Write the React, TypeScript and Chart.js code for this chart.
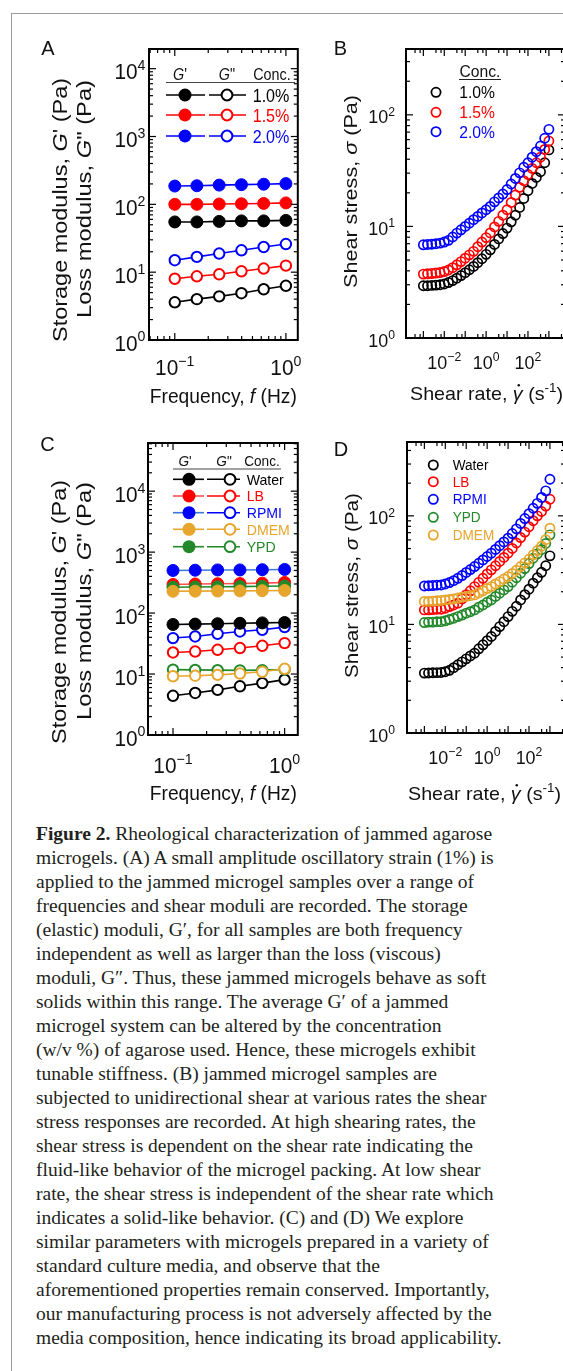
import React, { useEffect, useRef } from "react";
import { Chart, registerables } from "chart.js";
Chart.register(...registerables);

// ---------------- DATA ----------------
const freq = [0.1, 0.158, 0.251, 0.398, 0.631, 1.0];
// Panel A (concentration)
const gp10 = [55, 55, 56, 57, 57, 58];
const gpp10 = [3.6, 4.0, 4.4, 4.9, 5.6, 6.3];
const gp15 = [100, 100, 101, 102, 103, 105];
const gpp15 = [8.0, 8.7, 9.3, 10.3, 11.3, 12.5];
const gp20 = [186, 188, 192, 195, 198, 202];
const gpp20 = [15, 16.8, 18.8, 21, 23.5, 26];
// Panel C (media)
const gpWater = [65, 66, 67, 68, 69, 70];
const gppWater = [4.4, 4.9, 5.5, 6.3, 7.1, 8.1];
const gpLB = [295, 300, 303, 305, 310, 318];
const gppLB = [22.6, 23.4, 25.0, 26.7, 29.1, 32.2];
const gpRPMI = [500, 505, 510, 510, 515, 520];
const gppRPMI = [38.9, 41.4, 45.7, 49.9, 53.2, 58.9];
const gpDMEM = [228, 229, 230, 231, 233, 235];
const gppDMEM = [9.2, 9.4, 9.7, 10.2, 10.9, 12.2];
const gpYPD = [265, 268, 270, 272, 275, 278];
const gppYPD = [11.8, 11.7, 11.6, 11.5, 11.6, 11.9];

const shearRate = [0.001, 0.00158, 0.00251, 0.00398, 0.00631, 0.01, 0.0158, 0.0251, 0.0398, 0.0631, 0.1, 0.158, 0.251, 0.398, 0.631, 1, 1.58, 2.51, 3.98, 6.31, 10, 15.8, 25.1, 39.8, 63.1, 100, 158, 251, 398, 631, 1000];
// Panel B
const sB10 = [2.94, 2.94, 2.96, 2.98, 3.0, 3.05, 3.14, 3.27, 3.44, 3.63, 3.85, 4.09, 4.38, 4.73, 5.13, 5.62, 6.17, 6.89, 7.73, 8.63, 9.66, 11.0, 12.6, 14.8, 17.8, 20.9, 24.3, 27.5, 30.9, 37.2, 48.5];
const sB15 = [3.74, 3.76, 3.78, 3.82, 3.86, 3.94, 4.07, 4.27, 4.53, 4.84, 5.19, 5.56, 5.98, 6.58, 7.24, 7.94, 8.75, 9.89, 11.1, 12.6, 14.1, 16.4, 19.1, 22.4, 25.7, 29.2, 33.1, 37.2, 41.7, 49.0, 58.3];
const sB20 = [6.84, 6.89, 6.93, 7.0, 7.08, 7.24, 7.5, 8.04, 8.71, 9.33, 10.0, 10.7, 11.5, 12.3, 13.2, 14.1, 15.1, 16.6, 18.0, 19.5, 21.4, 24.0, 26.9, 30.2, 33.9, 37.2, 41.7, 46.8, 52.5, 61.7, 74.1];
// Panel D
const sDWater = [3.56, 3.57, 3.59, 3.6, 3.61, 3.67, 3.78, 4.0, 4.25, 4.52, 4.82, 5.13, 5.44, 5.96, 6.49, 7.08, 7.74, 8.61, 9.55, 10.6, 11.8, 13.2, 14.7, 16.8, 18.8, 21.1, 24.0, 26.9, 30.2, 34.7, 42.8];
const sDLB = [13.6, 13.6, 13.7, 13.8, 13.8, 14.1, 14.6, 15.1, 15.7, 17.2, 18.8, 20.4, 22.3, 24.4, 26.6, 29.2, 31.8, 34.7, 38.0, 41.4, 45.3, 50.1, 56.2, 63.1, 70.8, 79.4, 90.2, 100, 109.6, 123, 142.2];
const sDRPMI = [22.6, 22.7, 22.8, 23.0, 23.1, 23.6, 24.3, 25.3, 26.6, 28.2, 30.1, 32.0, 34.1, 36.6, 39.3, 42.2, 45.3, 49.0, 53.1, 57.5, 62.2, 68.7, 75.9, 85.1, 94.4, 104.7, 117.5, 130.3, 147.9, 169.8, 217.3];
const sDYPD = [10.4, 10.5, 10.5, 10.6, 10.6, 10.8, 11.1, 11.4, 11.8, 12.2, 12.7, 13.1, 13.6, 14.4, 15.1, 16.0, 16.8, 18.1, 19.4, 20.8, 22.3, 24.5, 26.9, 29.6, 32.7, 36.3, 40.7, 44.7, 49.0, 55.6, 66.8];
const sDDMEM = [16.3, 16.3, 16.4, 16.5, 16.6, 16.8, 17.0, 17.2, 17.5, 17.8, 18.1, 18.4, 18.7, 19.5, 20.4, 21.4, 22.3, 23.6, 24.8, 26.2, 27.6, 29.5, 31.6, 34.1, 36.9, 39.8, 43.7, 47.9, 52.5, 60.3, 76.9];

const concLabels = ["1.0%", "1.5%", "2.0%"];
const mediaLabelsC = ["Water", "LB", "RPMI", "DMEM", "YPD"];
const mediaLabelsD = ["Water", "LB", "RPMI", "YPD", "DMEM"];
const freqTickExps = [-1, 0];
const modTickExps = [0, 1, 2, 3, 4];
const rateTickExps = [-2, 0, 2];
const stressTickExps = [0, 1, 2];

const captionLines = [
  "microgels. (A) A small amplitude oscillatory strain (1%) is",
  "applied to the jammed microgel samples over a range of",
  "frequencies and shear moduli are recorded. The storage",
  "(elastic) moduli, G\u2032, for all samples are both frequency",
  "independent as well as larger than the loss (viscous)",
  "moduli, G\u2033. Thus, these jammed microgels behave as soft",
  "solids within this range. The average G\u2032 of a jammed",
  "microgel system can be altered by the concentration",
  "(w/v %) of agarose used. Hence, these microgels exhibit",
  "tunable stiffness. (B) jammed microgel samples are",
  "subjected to unidirectional shear at various rates the shear",
  "stress responses are recorded. At high shearing rates, the",
  "shear stress is dependent on the shear rate indicating the",
  "fluid-like behavior of the microgel packing. At low shear",
  "rate, the shear stress is independent of the shear rate which",
  "indicates a solid-like behavior. (C) and (D) We explore",
  "similar parameters with microgels prepared in a variety of",
  "standard culture media, and observe that the",
  "aforementioned properties remain conserved. Importantly,",
  "our manufacturing process is not adversely affected by the",
  "media composition, hence indicating its broad applicability.",
];

// ---------------- STYLE ----------------
const BLACK = "#000000";
const RED = "#ff0000";
const BLUE = "#0000ff";
const GOLD = "#e6a52c";
const GREEN = "#22882a";
const FONT = '"Liberation Sans", Arial, Helvetica, sans-serif';

type Seg = { t: string; it?: boolean; sup?: boolean; dot?: boolean };
type TextItem = {
  segs: Seg[];
  x: number;
  y: number;
  size: number;
  align?: "left" | "center" | "right";
  color?: string;
  rot?: boolean;
  len?: number;
  sx?: number;
};

function fontOf(s: Seg, size: number) {
  return `${s.it ? "italic " : ""}${s.sup ? size * 0.68 : size}px ${FONT}`;
}
function segWidth(ctx: CanvasRenderingContext2D, segs: Seg[], size: number) {
  let w = 0;
  for (const s of segs) {
    ctx.font = fontOf(s, size);
    w += ctx.measureText(s.t).width;
  }
  return w;
}
function drawText(ctx: CanvasRenderingContext2D, it: TextItem) {
  const size = it.size;
  ctx.save();
  ctx.translate(it.x, it.y);
  if (it.rot) ctx.rotate(-Math.PI / 2);
  const w = segWidth(ctx, it.segs, size);
  const sx = it.len ? it.len / w : it.sx ?? 1;
  ctx.scale(sx, 1);
  const align = it.align ?? "left";
  let px = align === "left" ? 0 : align === "center" ? -w / 2 : -w;
  ctx.fillStyle = it.color ?? "#111";
  ctx.textBaseline = "alphabetic";
  ctx.textAlign = "left";
  for (const s of it.segs) {
    ctx.font = fontOf(s, size);
    const sw = ctx.measureText(s.t).width;
    ctx.fillText(s.t, px, s.sup ? -size * 0.42 : 0);
    if (s.dot) {
      ctx.beginPath();
      ctx.arc(px + sw * 0.6, -size * 0.78, size * 0.065, 0, Math.PI * 2);
      ctx.fill();
    }
    px += sw;
  }
  ctx.restore();
}

function expLabel(e: number): Seg[] {
  return [{ t: "10" }, { t: e < 0 ? "\u2212" + Math.abs(e) : String(e), sup: true }];
}

function logTicks(min: number, max: number, minors: number[]) {
  const out: { v: number; major: boolean }[] = [];
  for (let e = Math.floor(Math.log10(min)) - 1; e <= Math.ceil(Math.log10(max)); e++) {
    for (const m of [1, ...minors]) {
      const v = m * Math.pow(10, e);
      if (v >= min * 0.999 && v <= max * 1.001) out.push({ v, major: m === 1 });
    }
  }
  return out;
}

type LegendRow = { label: string; color: string; line?: string };
type PanelDef = {
  ox: number; oy: number; w: number; h: number;
  box: { l: number; t: number; r: number; b: number };
  xMin: number; xMax: number; yMin: number; yMax: number;
  xMinor: number[]; yMinor: number[];
  xExps: number[]; yExps: number[];
  tickSize: number; tickSx: number;
  xLabBase: number; yLabRight: number; yLabDy: number;
  texts: TextItem[];
  legend: (ctx: CanvasRenderingContext2D) => void;
  datasets: any[];
};

function marker(ctx: CanvasRenderingContext2D, x: number, y: number, r: number, color: string, filled: boolean, lw: number) {
  ctx.beginPath();
  ctx.arc(x, y, r, 0, Math.PI * 2);
  if (filled) {
    ctx.fillStyle = color;
    ctx.fill();
  } else {
    ctx.fillStyle = "#fff";
    ctx.fill();
    ctx.lineWidth = lw;
    ctx.strokeStyle = color;
    ctx.stroke();
  }
}
function seg(ctx: CanvasRenderingContext2D, x1: number, y1: number, x2: number, y2: number, color: string, lw: number) {
  ctx.beginPath();
  ctx.moveTo(x1, y1);
  ctx.lineTo(x2, y2);
  ctx.strokeStyle = color;
  ctx.lineWidth = lw;
  ctx.stroke();
}

function decoPlugin(p: PanelDef) {
  return {
    id: "deco",
    afterDraw(chart: any) {
      const ctx: CanvasRenderingContext2D = chart.ctx;
      const { left, right, top, bottom } = chart.chartArea;
      const xs = chart.scales.x;
      const ys = chart.scales.y;
      ctx.save();
      ctx.lineCap = "butt";
      for (const t of logTicks(p.xMin, p.xMax, p.xMinor)) {
        const px = xs.getPixelForValue(t.v);
        const L = t.major ? 7 : 4;
        seg(ctx, px, bottom, px, bottom - L, "#000", 1.2);
        seg(ctx, px, top, px, top + L, "#000", 1.2);
      }
      for (const t of logTicks(p.yMin, p.yMax, p.yMinor)) {
        const py = ys.getPixelForValue(t.v);
        const L = t.major ? 7 : 4;
        seg(ctx, left, py, left + L, py, "#000", 1.2);
        seg(ctx, right, py, right - L, py, "#000", 1.2);
      }
      ctx.lineWidth = 2;
      ctx.strokeStyle = "#000";
      ctx.strokeRect(left, top, right - left, bottom - top);

      ctx.translate(-p.ox, -p.oy);
      for (const e of p.xExps) {
        const px = xs.getPixelForValue(Math.pow(10, e)) + p.ox;
        drawText(ctx, { segs: expLabel(e), x: px, y: p.xLabBase, size: p.tickSize, align: "center", sx: p.tickSx, color: "#111" });
      }
      for (const e of p.yExps) {
        const py = ys.getPixelForValue(Math.pow(10, e)) + p.oy;
        drawText(ctx, { segs: expLabel(e), x: p.yLabRight, y: py + p.yLabDy, size: p.tickSize, align: "right", sx: p.tickSx, color: "#111" });
      }
      for (const t of p.texts) drawText(ctx, t);
      p.legend(ctx);
      ctx.restore();
    },
  };
}

function lineSet(x: number[], y: number[], color: string, filled: boolean, order: number, lineColor?: string) {
  return {
    data: x.map((v, i) => ({ x: v, y: y[i] })),
    showLine: true,
    borderColor: lineColor ?? color,
    borderWidth: 1.6,
    pointRadius: filled ? 6 : 5.2,
    pointBorderWidth: filled ? 1 : 2,
    pointBackgroundColor: filled ? color : "#ffffff",
    pointBorderColor: color,
    pointStyle: "circle",
    order,
  };
}
function openSet(x: number[], y: number[], color: string, order: number) {
  return {
    data: x.map((v, i) => ({ x: v, y: y[i] })),
    showLine: false,
    pointRadius: 4.6,
    pointBorderWidth: 1.7,
    pointBackgroundColor: "rgba(0,0,0,0)",
    pointBorderColor: color,
    pointStyle: "circle",
    order,
  };
}

const P = (e: number) => Math.pow(10, e);

const modTitle = (baseX1: number, baseX2: number, c1: number, c2: number): TextItem[] => [
  { segs: [{ t: "Storage modulus, " }, { t: "G", it: true }, { t: "' (Pa)" }], x: baseX1, y: c1, size: 19.5, align: "center", rot: true, len: 264, color: "#111" },
  { segs: [{ t: "Loss modulus, " }, { t: "G", it: true }, { t: '" (Pa)' }], x: baseX2, y: c2, size: 19.5, align: "center", rot: true, len: 238, color: "#111" },
];

function modLegend(
  ctx: CanvasRenderingContext2D,
  o: { hdrY: number; hdrX: number[]; ulY: number; ulX: [number, number]; rows: number[]; s1: [number, number]; s2: [number, number]; mF: number; mO: number; txtX: number; size: number; hdrSize: number; r: number; dy: number; sx: number },
  items: LegendRow[]
) {
  drawText(ctx, { segs: [{ t: "G", it: true }, { t: "'" }], x: o.hdrX[0], y: o.hdrY, size: o.hdrSize, align: "center", color: "#111", sx: o.sx });
  drawText(ctx, { segs: [{ t: "G", it: true }, { t: '"' }], x: o.hdrX[1], y: o.hdrY, size: o.hdrSize, align: "center", color: "#111", sx: o.sx });
  drawText(ctx, { segs: [{ t: "Conc." }], x: o.hdrX[2], y: o.hdrY, size: o.hdrSize, align: "center", color: "#111", sx: o.sx });
  seg(ctx, o.ulX[0], o.ulY, o.ulX[1], o.ulY, "#444", 1);
  items.forEach((it, i) => {
    const y = o.rows[i];
    seg(ctx, o.s1[0], y, o.s1[1], y, it.line ?? it.color, 1.6);
    seg(ctx, o.s2[0], y, o.s2[1], y, it.color, 1.6);
    marker(ctx, o.mF, y, o.r + 0.5, it.color, true, 1);
    marker(ctx, o.mO, y, o.r - 0.6, it.color, false, 2);
    drawText(ctx, { segs: [{ t: it.label }], x: o.txtX, y: y + o.dy, size: o.size, align: "left", color: it.color, sx: o.sx });
  });
}

const panelA: PanelDef = {
  ox: 20, oy: 25, w: 285, h: 395,
  box: { l: 149, t: 49, r: 299, b: 340 },
  xMin: P(-1.232), xMax: P(0.107), yMin: 1, yMax: P(4.29),
  xMinor: [2, 3, 4, 5, 6, 7, 8, 9], yMinor: [2, 3, 4, 5, 6, 7, 8, 9],
  xExps: freqTickExps, yExps: modTickExps,
  tickSize: 21.5, tickSx: 0.97, xLabBase: 375, yLabRight: 145.5, yLabDy: 10.5,
  texts: [
    { segs: [{ t: "A" }], x: 48, y: 55, size: 20, align: "center", color: "#111" },
    { segs: [{ t: "Frequency, " }, { t: "f", it: true }, { t: " (Hz)" }], x: 223.3, y: 403, size: 21, align: "center", len: 147, color: "#111" },
    ...modTitle(67, 91, 210, 199),
  ],
  legend: (ctx) =>
    modLegend(
      ctx,
      { hdrY: 80, hdrX: [180, 227, 272], ulY: 82.5, ulX: [166, 295], rows: [95, 115, 136], s1: [166, 205], s2: [209, 246], mF: 185, mO: 227, txtX: 252.7, size: 18.5, hdrSize: 16.5, r: 6, dy: 6.6, sx: 0.87 },
      [
        { label: concLabels[0], color: BLACK },
        { label: concLabels[1], color: RED },
        { label: concLabels[2], color: BLUE },
      ]
    ),
  datasets: [
    lineSet(freq, gp20, BLUE, true, 0),
    lineSet(freq, gp15, RED, true, 1),
    lineSet(freq, gp10, BLACK, true, 2),
    lineSet(freq, gpp20, BLUE, false, 3),
    lineSet(freq, gpp15, RED, false, 4),
    lineSet(freq, gpp10, BLACK, false, 5),
  ],
};

const panelC: PanelDef = {
  ox: 20, oy: 425, w: 285, h: 395,
  box: { l: 148, t: 443, r: 299, b: 735 },
  xMin: P(-1.224), xMax: P(0.118), yMin: 1, yMax: P(4.79),
  xMinor: [2, 3, 4, 5, 6, 7, 8, 9], yMinor: [2, 3, 4, 5, 6, 7, 8, 9],
  xExps: freqTickExps, yExps: modTickExps,
  tickSize: 21.5, tickSx: 0.97, xLabBase: 773, yLabRight: 145.5, yLabDy: 10.5,
  texts: [
    { segs: [{ t: "C" }], x: 47.5, y: 450.5, size: 20, align: "center", color: "#111" },
    { segs: [{ t: "Frequency, " }, { t: "f", it: true }, { t: " (Hz)" }], x: 223.3, y: 800, size: 21, align: "center", len: 147, color: "#111" },
    ...modTitle(66, 91, 612, 601),
  ],
  legend: (ctx) =>
    modLegend(
      ctx,
      { hdrY: 466, hdrX: [185, 224, 262], ulY: 469, ulX: [173, 281], rows: [479.3, 496, 512.7, 529.3, 546.7], s1: [173, 204], s2: [207, 240], mF: 189, mO: 230, txtX: 246.7, size: 15, hdrSize: 14.5, r: 6, dy: 5.4, sx: 0.94 },
      [
        { label: mediaLabelsC[0], color: BLACK },
        { label: mediaLabelsC[1], color: RED, line: "#ff5050" },
        { label: mediaLabelsC[2], color: BLUE, line: "#3a78d8" },
        { label: mediaLabelsC[3], color: GOLD },
        { label: mediaLabelsC[4], color: GREEN },
      ]
    ),
  datasets: [
    lineSet(freq, gpDMEM, GOLD, true, 0),
    lineSet(freq, gpYPD, GREEN, true, 1),
    lineSet(freq, gpLB, RED, true, 2, "#ff5050"),
    lineSet(freq, gpRPMI, BLUE, true, 3, "#3a78d8"),
    lineSet(freq, gpWater, BLACK, true, 4),
    lineSet(freq, gppRPMI, BLUE, false, 5),
    lineSet(freq, gppLB, RED, false, 6),
    lineSet(freq, gppDMEM, GOLD, false, 7),
    lineSet(freq, gppYPD, GREEN, false, 8),
    lineSet(freq, gppWater, BLACK, false, 9),
  ],
};

const rateTitle = (x: number, y: number): TextItem => ({
  segs: [{ t: "Shear rate, " }, { t: "\u03b3", it: true, dot: true }, { t: " (s" }, { t: "-1", sup: true }, { t: ")" }],
  x, y, size: 19, align: "left", len: 153, color: "#111",
});
const stressTitle = (x: number, y: number, len: number): TextItem => ({
  segs: [{ t: "Shear stress, " }, { t: "\u03c3", it: true }, { t: " (Pa)" }],
  x, y, size: 19, align: "center", rot: true, len, color: "#111",
});

function circLegend(ctx: CanvasRenderingContext2D, o: { cx: number; tx: number; rows: number[]; size: number; dy: number; sx: number; hdr?: { x: number; y: number; ul: [number, number]; ulY: number } }, items: LegendRow[]) {
  if (o.hdr) {
    drawText(ctx, { segs: [{ t: "Conc." }], x: o.hdr.x, y: o.hdr.y, size: o.size, align: "center", color: "#111", sx: o.sx });
    seg(ctx, o.hdr.ul[0], o.hdr.ulY, o.hdr.ul[1], o.hdr.ulY, "#222", 1.2);
  }
  items.forEach((it, i) => {
    const y = o.rows[i];
    ctx.beginPath();
    ctx.arc(o.cx, y, 4.6, 0, Math.PI * 2);
    ctx.lineWidth = 1.8;
    ctx.strokeStyle = it.color;
    ctx.stroke();
    drawText(ctx, { segs: [{ t: it.label }], x: o.tx, y: y + o.dy, size: o.size, align: "left", color: it.color, sx: o.sx });
  });
}

const panelB: PanelDef = {
  ox: 305, oy: 25, w: 270, h: 395,
  box: { l: 406, t: 49, r: 565, b: 338 },
  xMin: P(-3.83), xMax: P(3.77), yMin: 1, yMax: P(2.59),
  xMinor: [4, 7], yMinor: [2, 3, 4, 5, 6, 7, 8, 9],
  xExps: rateTickExps, yExps: stressTickExps,
  tickSize: 18.5, tickSx: 0.97, xLabBase: 368.5, yLabRight: 395, yLabDy: 8.5,
  texts: [
    { segs: [{ t: "B" }], x: 340.5, y: 55, size: 20, align: "center", color: "#111" },
    rateTitle(410, 400),
    stressTitle(357, 191.5, 193),
  ],
  legend: (ctx) =>
    circLegend(
      ctx,
      { cx: 436, tx: 459.3, rows: [92.3, 112.3, 131.7], size: 16.5, dy: 6, sx: 0.95, hdr: { x: 480, y: 77, ul: [459, 501], ulY: 79.5 } },
      [
        { label: concLabels[0], color: BLACK },
        { label: concLabels[1], color: RED },
        { label: concLabels[2], color: BLUE },
      ]
    ),
  datasets: [
    openSet(shearRate, sB20, BLUE, 0),
    openSet(shearRate, sB15, RED, 1),
    openSet(shearRate, sB10, BLACK, 2),
  ],
};

const panelD: PanelDef = {
  ox: 305, oy: 425, w: 270, h: 395,
  box: { l: 407, t: 442, r: 565, b: 733 },
  xMin: P(-3.83), xMax: P(3.72), yMin: 1, yMax: P(2.68),
  xMinor: [4, 7], yMinor: [2, 3, 4, 5, 6, 7, 8, 9],
  xExps: rateTickExps, yExps: stressTickExps,
  tickSize: 18.5, tickSx: 0.97, xLabBase: 763.5, yLabRight: 395, yLabDy: 8.5,
  texts: [
    { segs: [{ t: "D" }], x: 341, y: 456, size: 20, align: "center", color: "#111" },
    rateTitle(408, 800),
    stressTitle(358, 585.5, 185),
  ],
  legend: (ctx) =>
    circLegend(
      ctx,
      { cx: 433.3, tx: 452.7, rows: [465, 481.7, 499.3, 517.3, 535], size: 14, dy: 5, sx: 0.97 },
      [
        { label: mediaLabelsD[0], color: BLACK },
        { label: mediaLabelsD[1], color: RED },
        { label: mediaLabelsD[2], color: BLUE },
        { label: mediaLabelsD[3], color: GREEN },
        { label: mediaLabelsD[4], color: GOLD },
      ]
    ),
  datasets: [
    openSet(shearRate, sDDMEM, GOLD, 0),
    openSet(shearRate, sDYPD, GREEN, 1),
    openSet(shearRate, sDRPMI, BLUE, 2),
    openSet(shearRate, sDLB, RED, 3),
    openSet(shearRate, sDWater, BLACK, 4),
  ],
};

function Panel({ p }: { p: PanelDef }) {
  const ref = useRef<HTMLCanvasElement>(null);
  useEffect(() => {
    const chart = new Chart(ref.current as HTMLCanvasElement, {
      type: "scatter",
      data: { datasets: p.datasets },
      options: {
        animation: false,
        responsive: false,
        devicePixelRatio: 1,
        events: [],
        layout: {
          padding: {
            left: p.box.l - p.ox,
            top: p.box.t - p.oy,
            right: p.ox + p.w - p.box.r,
            bottom: p.oy + p.h - p.box.b,
          },
        },
        plugins: { legend: { display: false }, tooltip: { enabled: false } },
        scales: {
          x: { type: "logarithmic", min: p.xMin, max: p.xMax, display: false },
          y: { type: "logarithmic", min: p.yMin, max: p.yMax, display: false },
        },
      } as any,
      plugins: [decoPlugin(p) as any],
    });
    return () => chart.destroy();
  }, []);
  return (
    <canvas
      ref={ref}
      width={p.w}
      height={p.h}
      style={{ position: "absolute", left: p.ox, top: p.oy, width: p.w, height: p.h }}
    />
  );
}

export default function App() {
  return (
    <div style={{ position: "absolute", left: 0, top: 0, width: 563, height: 1371, overflow: "hidden", background: "#fff" }}>
      <div style={{ position: "absolute", left: 11, top: 13, width: 700, height: 1500, borderTop: "1px solid #9a9a9a", borderLeft: "1px solid #9a9a9a" }} />
      <Panel p={panelA} />
      <Panel p={panelB} />
      <Panel p={panelC} />
      <Panel p={panelD} />
      <div
        style={{
          position: "absolute",
          left: 36,
          top: 822,
          fontFamily: '"Liberation Serif", "Times New Roman", serif',
          fontSize: 19.5,
          lineHeight: "24px",
          color: "#231f20",
          whiteSpace: "nowrap",
        }}
      >
        <div>
          <b>Figure 2.</b> Rheological characterization of jammed agarose
        </div>
        {captionLines.map((l, i) => (
          <div key={i}>{l}</div>
        ))}
      </div>
    </div>
  );
}
